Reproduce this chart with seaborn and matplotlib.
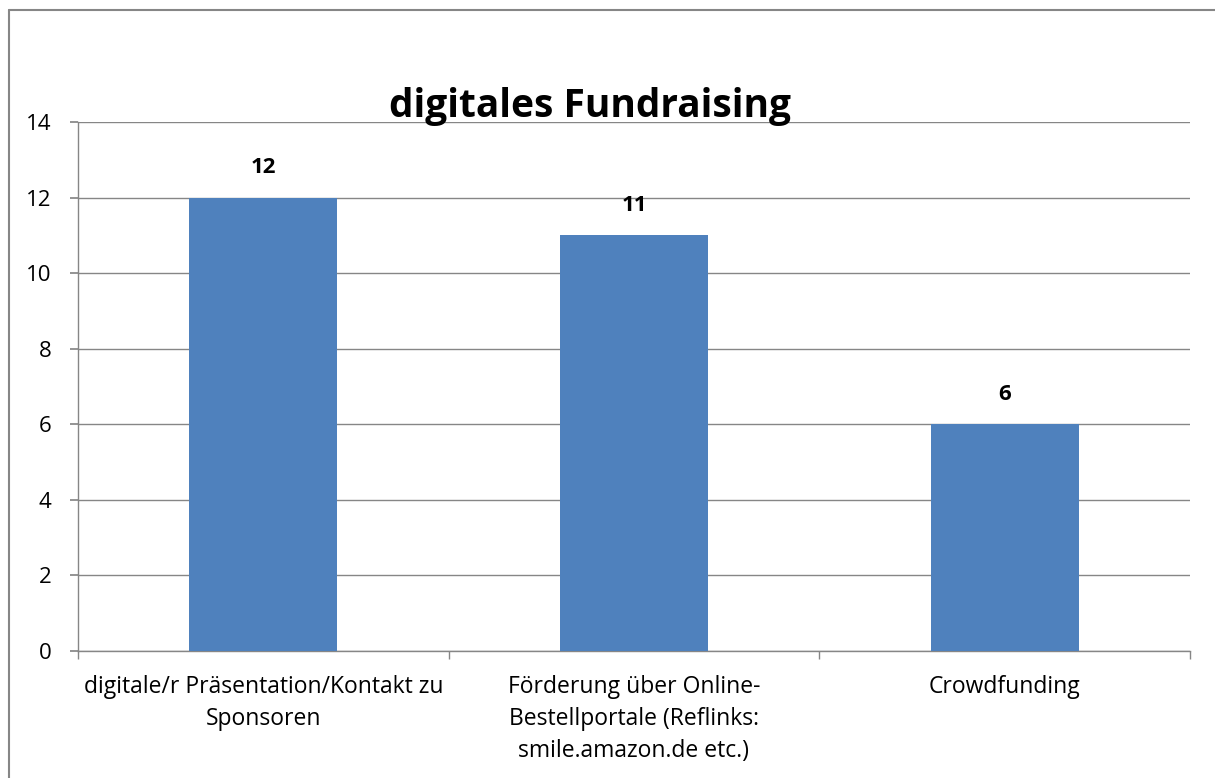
import matplotlib
matplotlib.use('Agg')
import matplotlib.pyplot as plt
import seaborn as sns
import pandas as pd
from matplotlib.lines import Line2D

categories = ['digitale/r Präsentation/Kontakt zu\nSponsoren',
              'Förderung über Online-\nBestellportale (Reflinks:\nsmile.amazon.de etc.)',
              'Crowdfunding']
values = [12, 11, 6]
y_ticks = [0, 2, 4, 6, 8, 10, 12, 14]

sns.set_theme(style='white')
plt.rcParams['font.family'] = ['Open Sans', 'DejaVu Sans']
plt.rcParams['text.color'] = 'black'
plt.rcParams['xtick.color'] = 'black'
plt.rcParams['ytick.color'] = 'black'

grey = '#868686'
df = pd.DataFrame({'cat': categories, 'val': values})

fig = plt.figure(figsize=(12.15, 7.78), dpi=100)
ax = fig.add_axes([78 / 1215, 1 - 651 / 778, 1112 / 1215, 529 / 778])

sns.barplot(data=df, x='cat', y='val', color='#4F81BD', saturation=1, width=0.4,
            linewidth=0, ax=ax, zorder=3)

ax.set_ylim(0, 14)
ax.set_xlim(-0.5, 2.5)
ax.set_yticks(y_ticks)
ax.yaxis.grid(True, color=grey, linewidth=1)
ax.set_axisbelow(True)
ax.set_xlabel('')
ax.set_ylabel('')

for s in ['top', 'right']:
    ax.spines[s].set_visible(False)
for s in ['left', 'bottom']:
    ax.spines[s].set_color(grey)
    ax.spines[s].set_linewidth(1)

ax.tick_params(axis='y', which='major', length=6, color=grey, direction='out',
               labelsize=16, pad=13, left=True, labelcolor='black')
ax.tick_params(axis='x', which='major', length=0, labelsize=16.5, pad=17, labelcolor='black')
ax.set_xticks([-0.5, 0.5, 1.5, 2.5], minor=True)
ax.tick_params(axis='x', which='minor', length=6, color=grey, direction='out', bottom=True)
for lbl in ax.get_xticklabels():
    lbl.set_linespacing(1.45)

for i, v in enumerate(values):
    ax.annotate(str(v), (i, v), xytext=(0, 21.5), textcoords='offset points',
                ha='center', va='center', fontsize=16, fontweight='bold', color='black')

fig.text(590 / 1215, 1 - 106 / 778, 'digitales Fundraising', ha='center', va='center',
         fontsize=28, fontweight='bold', color='black')

# outer chart-area border (only left and top edges are visible)
fig.lines.append(Line2D([8.5 / 1215, 8.5 / 1215], [0, 1 - 9.5 / 778], transform=fig.transFigure,
                        color=grey, linewidth=1.5))
fig.lines.append(Line2D([8.5 / 1215, 1], [1 - 9.5 / 778, 1 - 9.5 / 778], transform=fig.transFigure,
                        color=grey, linewidth=1.5))

fig.savefig('out.png', dpi=100)
